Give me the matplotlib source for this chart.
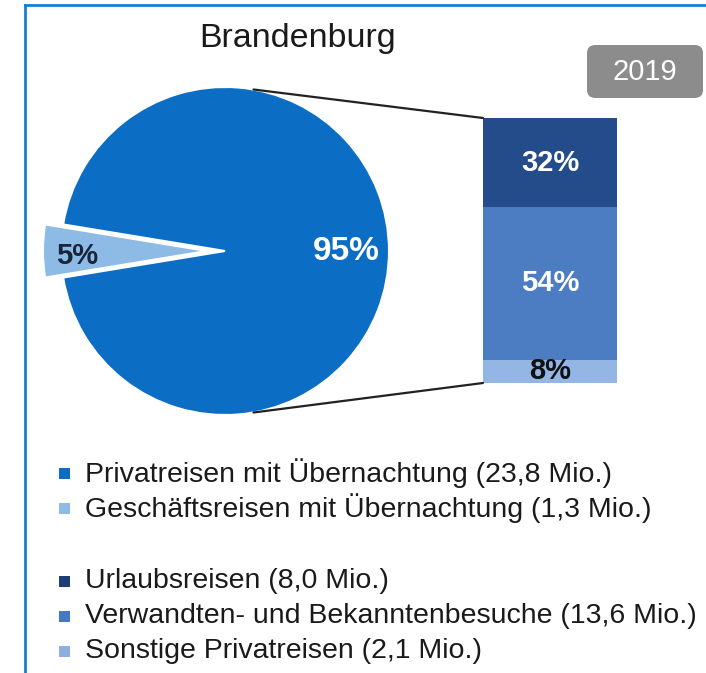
import matplotlib
matplotlib.use('Agg')
import matplotlib.pyplot as plt
from matplotlib.patches import ConnectionPatch, FancyBboxPatch, Rectangle
from matplotlib.lines import Line2D
import numpy as np

plt.rcParams['font.family'] = ['Liberation Sans', 'DejaVu Sans']

region = 'Brandenburg'
year = '2019'

# Reisen mit Übernachtung (Mio.)
pie_labels = ['Privatreisen mit Übernachtung', 'Geschäftsreisen mit Übernachtung']
pie_values = [23.8, 1.3]
pie_colors = ['#0b6ec4', '#8dbbe6']

# Privatreisen nach Anlass (Mio.), Anteil bezogen auf alle Reisen
bar_labels = ['Urlaubsreisen', 'Verwandten- und Bekanntenbesuche', 'Sonstige Privatreisen']
bar_values = [8.0, 13.6, 2.1]
bar_colors = ['#244c8a', '#4c7dc2', '#94b6e4']
bar_text_colors = ['white', 'white', '#111111']
legend_bar_colors = ['#1e3e78', '#4778c4', '#8db0e0']

W, H = 706, 673
fig = plt.figure(figsize=(W / 100, H / 100), dpi=100)


def px_box(x0, y0, x1, y1):
    # pixel box (top-left origin) -> figure fractions
    return [x0 / W, 1 - y1 / H, (x1 - x0) / W, (y1 - y0) / H]


# blue frame (left + top)
fig.add_artist(Line2D([25 / W, 25 / W], [0, 1 - 5 / H], color='#1a7ed0', lw=2, transform=fig.transFigure))
fig.add_artist(Line2D([25 / W, 1], [1 - 5 / H, 1 - 5 / H], color='#1a7ed0', lw=2, transform=fig.transFigure))

# title and year box
fig.text(298 / W, 1 - 47 / H, region, ha='center', va='baseline', fontsize=24.5, color='#1a1a1a')
fig.add_artist(FancyBboxPatch((587 / W, 1 - 98 / H), 116 / W, 53 / H,
                              boxstyle='round,pad=0,rounding_size=0.012',
                              transform=fig.transFigure, facecolor='#8c8c8c', edgecolor='none'))
fig.text(645 / W, 1 - 72 / H, year, ha='center', va='center', fontsize=21, color='white')

# pie
ax_pie = fig.add_axes(px_box(61, 87, 389, 415))
total = sum(pie_values)
f_small = pie_values[1] / total
start = 180 - 360 * (1 - f_small / 2)
wedges, texts, autotexts = ax_pie.pie(
    pie_values, colors=pie_colors, startangle=start, explode=[0, 0.11],
    autopct=lambda p: f'{p:.0f}%', pctdistance=0.74,
    wedgeprops=dict(edgecolor='white', linewidth=1.5),
    textprops=dict(fontsize=24, fontweight='bold', color='white'))
for w in wedges:
    w.set_clip_on(False)
ax_pie.set_xlim(-1, 1)
ax_pie.set_ylim(-1, 1)
ax_pie.set_aspect('equal')
ax_pie.axis('off')
autotexts[1].set_position((-0.90, -0.03))
autotexts[1].set_color('#17243a')
autotexts[1].set_fontsize(21)

# stacked bar
ax_bar = fig.add_axes(px_box(483, 118, 617, 383))
bottom = 0
for lab, val, col, tcol in list(zip(bar_labels, bar_values, bar_colors, bar_text_colors))[::-1]:
    ax_bar.bar(0, val, width=1, bottom=bottom, color=col)
    share = val / total * 100
    ax_bar.text(0, bottom + val / 2, f'{share:.0f}%', ha='center', va='center',
                fontsize=21, fontweight='bold', color=tcol, clip_on=False)
    bottom += val
ax_bar.set_xlim(-0.5, 0.5)
ax_bar.set_ylim(0, bottom)
ax_bar.axis('off')

# connector lines
ang = np.deg2rad(80)
for sign, yb in [(1, bottom), (-1, 0)]:
    con = ConnectionPatch(xyA=(np.cos(ang), sign * np.sin(ang)), coordsA=ax_pie.transData,
                          xyB=(-0.5, yb), coordsB=ax_bar.transData, color='#222222', linewidth=1.6)
    fig.add_artist(con)

# legend
legend_rows = list(zip(pie_labels, pie_values, pie_colors, [473, 508]))
legend_rows += list(zip(bar_labels, bar_values, legend_bar_colors, [581, 616, 651]))
for lab, val, col, y in legend_rows:
    fig.add_artist(Rectangle((59 / W, 1 - (y + 5.5) / H), 11 / W, 11 / H,
                             transform=fig.transFigure, facecolor=col, edgecolor='none'))
    txt = f'{lab} ({str(val).replace(".", ",")} Mio.)'
    fig.text(85 / W, 1 - y / H, txt, ha='left', va='center', fontsize=20.5, color='#1a1a1a')

fig.savefig('out.png', dpi=100)
